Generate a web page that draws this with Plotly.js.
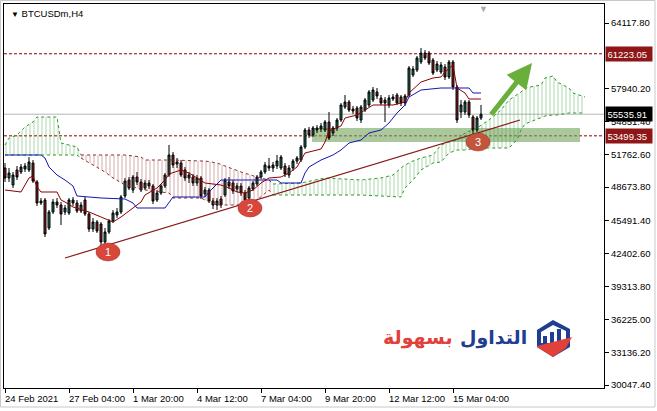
<!DOCTYPE html>
<html><head><meta charset="utf-8">
<script src="https://cdn.plot.ly/plotly-3.0.1.min.js"></script>
<style>html,body{margin:0;padding:0;background:#fff}#chart{width:657px;height:411px}</style>
</head><body><div id="chart"></div>
<script>
// ---------- DATA ----------
const symbolTitle = 'BTCUSDm,H4';
const tickBarsX = [0, 16, 32, 48, 64, 80, 96, 112];
const tickLabelsX = ['24 Feb 2021', '27 Feb 04:00', '1 Mar 20:00', '4 Mar 12:00', '7 Mar 04:00', '9 Mar 20:00', '12 Mar 12:00', '15 Mar 04:00'];
const tickValsY = [64117.80, 57940.20, 54851.40, 51762.60, 48673.80, 45491.40, 42402.60, 39313.80, 36225.00, 33136.20, 30047.40];
const tickTextY = ['64117.80', '57940.20', '54851.40', '51762.60', '48673.80', '45491.40', '42402.60', '39313.80', '36225.00', '33136.20', '30047.40'];

const openP = [50473,49532,48874,50285,50097,50379,50285,50944,49156,47180,
  47462,44827,46333,47274,46992,46333,46239,47462,47180,46427,
  47462,46145,44733,45392,45204,43510,44451,45486,46051,46333,
  47839,49344,48403,49626,49156,48591,49062,48780,47462,48121,
  48780,49815,51697,50850,50944,50285,49532,49626,49062,49532,
  48027,48403,47368,46992,47556,47933,49156,49062,48497,48780,
  48121,47650,48497,48968,49626,50097,50662,50473,50662,50473,
  50662,49815,50473,51132,51226,52449,54049,53579,54049,54143,
  54049,54802,53767,54237,54990,56213,56684,56025,56119,54990,
  55931,56402,56872,57625,57060,56872,56402,56966,57343,57154,
  56590,57343,59225,59695,60448,61295,61295,60636,59695,59507,
  59977,59036,60448,58095,55743,55743,56684,55272,54049,55178];
const closeP = [49532,50003,49815,49626,50567,50662,51038,49250,47180,47368,
  44263,46333,47274,46992,46145,46709,47462,47180,46427,46992,
  46145,44733,45392,44545,43510,44451,45486,46239,46333,47744,
  49250,48591,49626,49156,48403,49062,48780,47368,48121,48780,
  49815,51697,50756,51038,49815,49532,49815,49062,49532,47839,
  48403,47368,46992,47368,46992,49344,48780,48309,48780,48121,
  47462,48591,49062,49626,50097,50756,50473,50756,51132,51508,
  49909,50473,51132,51414,52449,54049,53579,54237,54237,54426,
  54802,53296,54237,54990,56402,56684,55931,55837,55178,56213,
  56872,57625,57813,57249,56590,56590,57060,57154,56590,56590,
  57249,59883,59789,60824,61295,60824,60354,59413,60260,60166,
  59036,60448,58095,54990,56402,56684,55461,54049,55178,55535.91];
const highP = [50944,50473,50097,50662,50850,50944,51508,51226,49344,47650,
  47650,46521,47556,47650,47274,46992,47650,47744,47462,47274,
  47744,46333,45768,45580,45392,44827,45674,46521,46709,47933,
  49532,49626,49815,50097,49438,49344,49344,48968,48403,48968,
  50003,52638,51979,51414,51226,50567,50097,49909,49815,49721,
  48685,48591,47650,47650,47839,49532,49626,49344,49062,49062,
  48403,48780,49250,49815,50285,51038,51414,51038,51697,51697,
  50944,50756,51320,51602,52638,54237,54331,54426,54520,54708,
  54990,55743,54426,55178,56590,57343,56872,56308,56308,56402,
  57060,57813,58095,58001,57343,57154,57343,57437,57531,57343,
  57437,60072,60072,61013,61765,61577,61483,60824,60542,60448,
  60260,60636,60636,58284,56872,56872,56872,55461,55367,56402];
const lowP = [49156,49156,48591,49344,49909,50097,50097,49062,46898,46992,
  43980,44639,46145,46709,45110,46051,46051,46898,46239,46239,
  45957,44451,44451,44357,43134,43322,44263,45298,45768,46145,
  47650,48403,48121,48874,48215,48403,48497,47086,47274,47933,
  48591,49626,50473,50473,49626,49250,49062,48780,48780,47556,
  47744,47180,46615,46521,46709,47744,48497,48027,48215,47839,
  47180,47274,48309,48780,49438,49909,50191,50097,50379,50285,
  49626,49532,50191,50850,51038,52261,53296,53390,53767,53861,
  53861,53108,53484,53955,54802,56025,55743,55555,54896,54708,
  55743,56213,56684,56966,56402,54802,56119,56778,56402,56308,
  56308,57154,59036,59507,60260,60636,60166,59225,59507,59319,
  58754,58848,57813,54708,55178,55461,55178,53579,53861,54990];

// Ichimoku Tenkan-sen (red) and Kijun-sen (blue)
const tenkanBar = [0,4,5,6,7,8,9,13,14,15,17,21,24,26,27,29,32,34,35,38,40,41,44,46,48,50,54,56,58,60,62,64,66,69,71,73,74,75,77,79,80,81,84,85,88,90,92,97,100,101,104,107,109,110,112,113,115,116,119];
const tenkanVal = [48403,48215,48874,49532,49721,48685,48215,48215,47462,47274,
  46803,46333,45862,45580,45392,45862,46709,47274,47933,48591,
  49344,49909,50285,50003,49532,49062,48874,48591,48215,48121,
  48403,49062,49532,49626,50003,50567,51226,51885,52073,52261,
  52920,53955,54426,55178,55461,55931,56402,56402,56684,57531,
  58566,58942,59036,59507,60166,58001,57531,56966,56966];
const kijunBar = [0,9,10,11,13,15,17,18,24,30,32,33,40,42,50,51,54,68,69,74,75,76,79,82,84,86,89,91,94,96,98,100,101,104,109,116,117,119];
const kijunVal = [51697,51697,51414,50567,49815,49344,48780,47839,47650,47556,
  47180,46709,46709,47744,47744,48215,49344,49344,49062,49062,
  50003,50567,51226,51697,52167,52826,53108,53767,54049,54708,
  55649,56402,57154,57813,58001,58001,57531,57531];

// Senkou span A / B (cloud, shifted forward)
const cloudBar = [0,1,3,5,7,8,13,14,18,19,22,25,27,30,34,35,41,42,49,50,53,55,59,63,66,67,74,80,89,94,97,99,100,102,104,107,109,111,113,115,118,121,124,126,128,129,130,134,135,137,138,141,142,145];
const spanA = [52638,53296,53579,54331,54802,55272,55272,52826,52449,51414,
  50756,50097,49532,48874,48497,48403,48121,47650,47650,47462,
  46992,46992,46992,47462,48403,48968,49062,49532,49344,49532,
  49815,50473,50756,51132,51414,51697,52638,52920,53108,53767,
  54237,54990,55931,56872,57343,57625,58001,58284,58942,59131,
  58566,58001,57531,57154];
const spanB = [51697,51697,51697,51697,51697,51697,51697,51697,51697,51697,
  51697,51697,51697,51697,51508,51226,51226,51226,51132,51132,
  50944,50662,50097,49626,49344,47933,47933,47933,47933,47839,
  47744,47744,48591,49344,50285,50944,51038,51885,52167,52167,
  52355,52355,52355,52355,53108,54049,54614,55178,55367,55461,
  55461,55649,55649,55649];

// Price levels
const resistLevel = 61223.05;
const supportLevel = 53499.35;
const lastPrice = 55535.91;
// Drawn objects (data coordinates: bar index, price)
const zone = {x0: 76.75, x1: 143.75, y0: 52920, y1: 54237};
const trend = {x0: 15, y0: 42004, x1: 128.75, y1: 54990};
const points = [{label: '1', x: 25.75, y: 42569}, {label: '2', x: 61.25, y: 46709}, {label: '3', x: 118.25, y: 52920}];
const arrowTip = {x: 131.75, y: 60354};
const arrowTail = {x: 121.25, y: 55367};

// ---------- TRACES ----------
const barIndex = openP.map((_, i) => i);
const GREEN = '#2e9a2e', BROWN = '#8b3030';
const traces = [];

// cloud segments by colour
(function () {
  const bull = k => spanA[k] >= spanB[k];
  let start = 0;
  for (let i = 1; i <= cloudBar.length; i++) {
    if (i === cloudBar.length || bull(i) !== bull(start)) {
      const end = Math.min(i, cloudBar.length - 1);
      const ks = [];
      for (let k = start; k <= end; k++) ks.push(k);
      const col = bull(start) ? GREEN : BROWN;
      const xs = ks.map(k => cloudBar[k]);
      traces.push({type: 'scatter', mode: 'lines', x: xs, y: ks.map(k => Math.min(spanA[k], spanB[k])),
        line: {color: col, width: 1, dash: 'dot'}, hoverinfo: 'skip', showlegend: false});
      traces.push({type: 'scatter', mode: 'lines', x: xs, y: ks.map(k => Math.max(spanA[k], spanB[k])),
        fill: 'tonexty', fillcolor: 'rgba(255,255,255,0)',
        fillpattern: {shape: '|', size: 4, solidity: 0.2, fgcolor: col, bgcolor: 'rgba(255,255,255,0)', fgopacity: 0.5},
        line: {color: col, width: 1, dash: 'dot'}, hoverinfo: 'skip', showlegend: false});
      start = i;
    }
  }
})();

traces.push({type: 'candlestick', x: barIndex, open: openP, high: highP, low: lowP, close: closeP,
  increasing: {line: {color: '#000', width: 1}, fillcolor: '#1f6d55'},
  decreasing: {line: {color: '#000', width: 1}, fillcolor: '#8e1c1c'},
  whiskerwidth: 0, hoverinfo: 'skip', showlegend: false});
traces.push({type: 'scatter', mode: 'lines', x: tenkanBar, y: tenkanVal, line: {color: '#8b0000', width: 1}, hoverinfo: 'skip', showlegend: false});
traces.push({type: 'scatter', mode: 'lines', x: kijunBar, y: kijunVal, line: {color: '#1414b4', width: 1}, hoverinfo: 'skip', showlegend: false});

// ---------- LAYOUT ----------
const px = x => (x - 4) / 600;      // pixel -> paper (logo placement)
const py = y => (388 - y) / 384;
const path = pts => 'M ' + pts.map(p => px(p[0]).toFixed(4) + ',' + py(p[1]).toFixed(4)).join(' L ') + ' Z';

const shapes = [
  {type: 'rect', layer: 'below', xref: 'x', yref: 'y', x0: zone.x0, x1: zone.x1, y0: zone.y0, y1: zone.y1, fillcolor: 'rgba(120,165,95,0.62)', line: {width: 0}},
  {type: 'line', layer: 'below', xref: 'paper', yref: 'y', x0: 0, x1: 1, y0: lastPrice, y1: lastPrice, line: {color: '#b4b4b4', width: 1}},
  {type: 'line', layer: 'below', xref: 'paper', yref: 'y', x0: 0, x1: 1, y0: resistLevel, y1: resistLevel, line: {color: '#8b0000', width: 1, dash: '3px,2px'}},
  {type: 'line', layer: 'below', xref: 'paper', yref: 'y', x0: 0, x1: 1, y0: supportLevel, y1: supportLevel, line: {color: '#8b0000', width: 1, dash: '3px,2px'}},
  {type: 'line', xref: 'x', yref: 'y', x0: trend.x0, y0: trend.y0, x1: trend.x1, y1: trend.y1, line: {color: '#8b1a1a', width: 1.2}},
  // outer window frame
  {type: 'rect', xref: 'paper', yref: 'paper', x0: px(0.5), x1: px(655), y0: py(0.5), y1: py(407), line: {color: '#c8c8c8', width: 1}},
  // logo icon
  {type: 'path', xref: 'paper', yref: 'paper', path: path([[537,330],[553,320],[570,329],[570,347],[553,357],[537,347]]), fillcolor: '#1f3d91', line: {width: 0}},
  {type: 'path', xref: 'paper', yref: 'paper', path: path([[541,332],[553,325],[566,331],[566,343],[541,343]]), fillcolor: '#ffffff', line: {width: 0}},
  {type: 'path', xref: 'paper', yref: 'paper', path: path([[543,343],[543,336],[547,336],[547,343]]), fillcolor: '#1f3d91', line: {width: 0}},
  {type: 'path', xref: 'paper', yref: 'paper', path: path([[550,343],[550,332],[554,332],[554,343]]), fillcolor: '#1f3d91', line: {width: 0}},
  {type: 'path', xref: 'paper', yref: 'paper', path: path([[557,343],[557,329],[561,329],[561,343]]), fillcolor: '#1f3d91', line: {width: 0}},
  {type: 'path', xref: 'paper', yref: 'paper', path: path([[537,346],[553,342],[572,337],[566,348],[553,357],[537,347]]), fillcolor: '#e2403a', line: {width: 0}}
];
points.forEach((p, k) => shapes.push({type: 'circle', xref: 'x', yref: 'y', xsizemode: 'pixel', ysizemode: 'pixel',
  xanchor: p.x, yanchor: p.y, x0: -12, x1: 12, y0: -9, y1: 9,
  fillcolor: k === 2 ? '#c2553c' : '#d9463b', line: {color: 'rgba(150,40,30,0.5)', width: 1}}));

const annotations = [];
tickBarsX.forEach((b, k) => annotations.push({x: b, xref: 'x', y: 0, yref: 'paper', yanchor: 'top', xanchor: 'left', yshift: -3, xshift: -2,
  text: tickLabelsX[k], showarrow: false, font: {size: 9.5, color: '#000'}}));
[[resistLevel, '61223.05', '#8e1616'], [lastPrice, '55535.91', '#000000'], [supportLevel, '53499.35', '#8e1616']].forEach(a =>
  annotations.push({xref: 'paper', x: 1, xanchor: 'left', xshift: 1, yref: 'y', y: a[0], text: a[1], bgcolor: a[2],
    font: {color: '#fff', size: 9.5}, borderpad: 1.5, showarrow: false, width: 43, align: 'left'}));
points.forEach(p => annotations.push({x: p.x, y: p.y, xref: 'x', yref: 'y', text: p.label, showarrow: false, font: {color: '#fff', size: 11}}));
annotations.push({x: arrowTip.x, y: arrowTip.y, ax: arrowTail.x, ay: arrowTail.y, xref: 'x', yref: 'y', axref: 'x', ayref: 'y',
  showarrow: true, arrowhead: 2, arrowsize: 1, arrowwidth: 5, arrowcolor: '#6aae3c', text: ''});
annotations.push({xref: 'paper', yref: 'paper', x: px(9), y: py(14), xanchor: 'left', yanchor: 'middle', showarrow: false,
  text: '<span style="font-size:8px">▼</span> ' + symbolTitle, font: {size: 9.5, color: '#000'}});
annotations.push({xref: 'paper', yref: 'paper', x: px(483), y: 1, xanchor: 'center', yanchor: 'top', yshift: 2, showarrow: false,
  text: '▼', font: {size: 9, color: '#a8a8a8'}});
annotations.push({xref: 'paper', yref: 'paper', x: px(529), y: py(337), xanchor: 'right', yanchor: 'middle', showarrow: false,
  text: '<b>التداول</b>', font: {family: 'DejaVu Sans', size: 19, color: '#1f3d91'}});
annotations.push({xref: 'paper', yref: 'paper', x: px(455), y: py(337), xanchor: 'right', yanchor: 'middle', showarrow: false,
  text: '<b>بسهولة</b>', font: {family: 'DejaVu Sans', size: 19, color: '#e2403a'}});

const layout = {
  width: 657, height: 411, margin: {l: 4, r: 53, t: 4, b: 23, pad: 0},
  paper_bgcolor: '#fff', plot_bgcolor: '#fff', showlegend: false,
  font: {family: 'Liberation Sans, Arial, sans-serif', size: 9.5, color: '#000'},
  xaxis: {range: [-0.25, 149.75], showgrid: false, zeroline: false, showline: true, mirror: true, linecolor: '#000', linewidth: 1,
    ticks: 'outside', ticklen: 4, tickcolor: '#000', tickvals: tickBarsX, showticklabels: false, rangeslider: {visible: false}, fixedrange: true},
  yaxis: {range: [29771.3, 65905.7], side: 'right', showgrid: false, zeroline: false, showline: true, mirror: true, linecolor: '#000', linewidth: 1,
    ticks: 'outside', ticklen: 4, tickcolor: '#000', tickvals: tickValsY, ticktext: tickTextY, tickfont: {size: 9.5}, fixedrange: true},
  shapes: shapes, annotations: annotations
};
Plotly.newPlot('chart', traces, layout, {displayModeBar: false, staticPlot: true});
</script></body></html>
